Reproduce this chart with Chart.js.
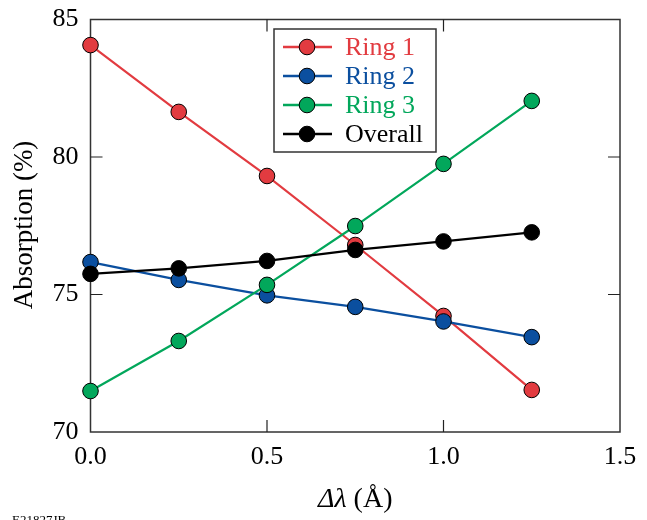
<!DOCTYPE html>
<html>
<head>
<meta charset="utf-8">
<script src="https://cdn.jsdelivr.net/npm/chart.js@4.4.0/dist/chart.umd.min.js"></script>
<style>
  html, body { margin: 0; padding: 0; background: #fff; }
  #wrap { position: relative; width: 647px; height: 520px; }
</style>
</head>
<body>
<div id="wrap"><canvas id="c" width="647" height="520"></canvas></div>
<script>
// ---- data ----
const xValues = [0.0, 0.25, 0.5, 0.75, 1.0, 1.25];
const ring1 = [84.07, 81.64, 79.31, 76.80, 74.22, 71.53];
const ring2 = [76.18, 75.53, 74.97, 74.55, 74.02, 73.45];
const ring3 = [71.49, 73.31, 75.35, 77.49, 79.75, 82.04];
const overall = [75.75, 75.95, 76.22, 76.62, 76.93, 77.26];
const seriesNames = ['Ring 1', 'Ring 2', 'Ring 3', 'Overall'];
const xTickLabels = ['0.0', '0.5', '1.0', '1.5'];
const yTickLabels = ['70', '75', '80', '85'];

const colors = ['#e23b40', '#0b4f9f', '#02a75b', '#000000'];
const FONT = "'Liberation Serif', 'Times New Roman', serif";

function pts(arr) { return xValues.map((x, i) => ({ x: x, y: arr[i] })); }

const seriesValues = [ring1, ring2, ring3, overall];
const datasets = seriesValues.map((vals, i) => ({
  label: seriesNames[i],
  data: pts(vals),
  borderColor: colors[i],
  backgroundColor: colors[i],
  pointBackgroundColor: colors[i],
  pointBorderColor: '#000',
  pointBorderWidth: 1,
  pointRadius: 7.8,
  pointHoverRadius: 7.8,
  borderWidth: 2.2,
  tension: 0,
  clip: false,
  order: 4 - i
}));

const framePlugin = {
  id: 'frame',
  beforeDatasetsDraw(chart) {
    const { ctx, chartArea: a } = chart;
    const xs = chart.scales.x, ys = chart.scales.y;
    ctx.save();
    ctx.strokeStyle = '#333';
    ctx.lineWidth = 1.5;
    ctx.strokeRect(a.left, a.top, a.right - a.left, a.bottom - a.top);
    ctx.lineWidth = 1.2;
    ctx.strokeStyle = '#222';
    const tl = 12;
    [0.5, 1.0].forEach(v => {
      const px = xs.getPixelForValue(v);
      ctx.beginPath();
      ctx.moveTo(px, a.bottom); ctx.lineTo(px, a.bottom - tl);
      ctx.moveTo(px, a.top); ctx.lineTo(px, a.top + tl);
      ctx.stroke();
    });
    [75, 80].forEach(v => {
      const py = ys.getPixelForValue(v);
      ctx.beginPath();
      ctx.moveTo(a.left, py); ctx.lineTo(a.left + tl, py);
      ctx.moveTo(a.right, py); ctx.lineTo(a.right - tl, py);
      ctx.stroke();
    });
    ctx.restore();
  },
  afterDraw(chart) {
    const { ctx, chartArea: a } = chart;
    ctx.save();
    // y title
    ctx.fillStyle = '#000';
    ctx.font = '27px ' + FONT;
    ctx.textAlign = 'center';
    ctx.textBaseline = 'middle';
    ctx.translate(25, 225);
    ctx.rotate(-Math.PI / 2);
    ctx.fillText('Absorption (%)', 0, 0);
    ctx.restore();

    // x title: italic Δλ + regular (Å)
    ctx.save();
    ctx.fillStyle = '#000';
    ctx.textBaseline = 'alphabetic';
    const p1 = 'Δλ', p2 = ' (Å)';
    ctx.font = 'italic 28px ' + FONT;
    const w1 = ctx.measureText(p1).width;
    ctx.font = '28px ' + FONT;
    const w2 = ctx.measureText(p2).width;
    const cx = (a.left + a.right) / 2;
    let sx = cx - (w1 + w2) / 2;
    const by = 507;
    ctx.font = 'italic 28px ' + FONT;
    ctx.textAlign = 'left';
    ctx.fillText(p1, sx, by);
    ctx.font = '28px ' + FONT;
    ctx.fillText(p2, sx + w1, by);

    // figure id
    ctx.font = '13px ' + FONT;
    ctx.fillText('E21827JB', 12, 524);
    ctx.restore();

    // legend
    ctx.save();
    const lx = 274, ly = 29, lw = 162, lh = 123;
    ctx.fillStyle = '#fff';
    ctx.fillRect(lx, ly, lw, lh);
    ctx.strokeStyle = '#333';
    ctx.lineWidth = 1.5;
    ctx.strokeRect(lx, ly, lw, lh);
    const rows = [47, 76, 105, 134];
    ctx.font = '26px ' + FONT;
    ctx.textAlign = 'left';
    ctx.textBaseline = 'middle';
    seriesNames.forEach((name, i) => {
      const y = rows[i];
      ctx.strokeStyle = colors[i];
      ctx.lineWidth = 2.5;
      ctx.beginPath();
      ctx.moveTo(283, y); ctx.lineTo(332, y);
      ctx.stroke();
      ctx.beginPath();
      ctx.arc(307, y, 7.8, 0, Math.PI * 2);
      ctx.fillStyle = colors[i];
      ctx.fill();
      ctx.lineWidth = 1;
      ctx.strokeStyle = '#000';
      ctx.stroke();
      ctx.fillStyle = colors[i];
      ctx.fillText(name, 345, y + 1);
    });
    ctx.restore();
  }
};

new Chart(document.getElementById('c'), {
  type: 'line',
  data: { datasets: datasets },
  options: {
    responsive: false,
    animation: false,
    events: [],
    layout: { padding: { top: 19.5, right: 27, left: 0, bottom: 0 } },
    plugins: { legend: { display: false }, tooltip: { enabled: false } },
    scales: {
      x: {
        type: 'linear',
        min: 0, max: 1.5,
        afterFit(s) { s.height = 88; s.paddingLeft = 0; s.paddingRight = 0; },
        afterBuildTicks(s) { s.ticks = xTickLabels.map(t => ({ value: parseFloat(t) })); },
        ticks: {
          callback: (v) => xTickLabels.find(t => parseFloat(t) === v) || '',
          font: { family: FONT, size: 26 },
          color: '#000',
          padding: 10,
          maxRotation: 0
        },
        grid: { display: false, drawTicks: false },
        border: { display: false }
      },
      y: {
        type: 'linear',
        min: 70, max: 85,
        afterFit(s) { s.width = 90.5; s.paddingTop = 0; s.paddingBottom = 0; },
        afterBuildTicks(s) { s.ticks = yTickLabels.map(t => ({ value: parseFloat(t) })); },
        ticks: {
          callback: (v) => yTickLabels.find(t => parseFloat(t) === v) || '',
          font: { family: FONT, size: 26 },
          color: '#000',
          padding: 12
        },
        grid: { display: false, drawTicks: false },
        border: { display: false }
      }
    }
  },
  plugins: [framePlugin]
});
</script>
</body>
</html>
